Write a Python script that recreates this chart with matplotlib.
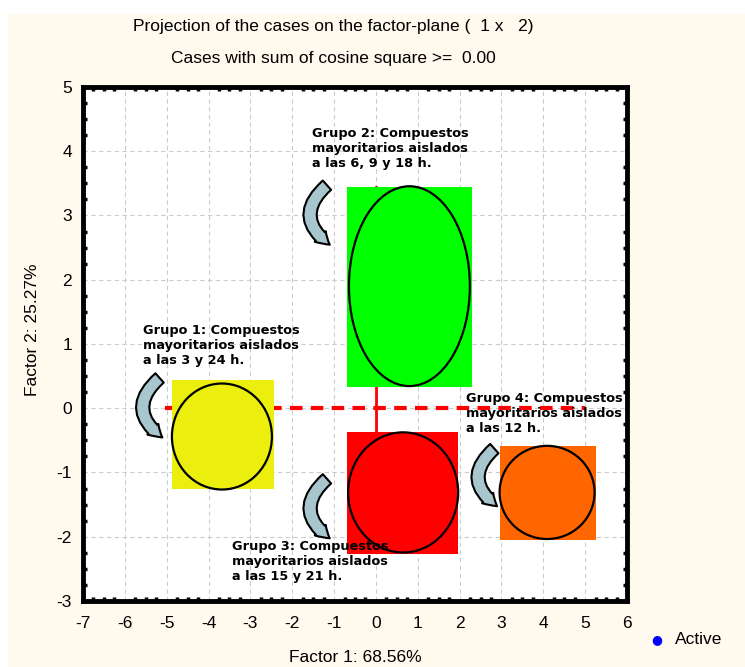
import matplotlib
matplotlib.use('Agg')
from matplotlib import pyplot as plt
from matplotlib.patches import Rectangle, Ellipse, FancyArrowPatch
from matplotlib.ticker import MultipleLocator

plt.rcParams['axes.unicode_minus'] = False

# datos de los grupos (centro, ancho y alto de cada elipse)
grupos = ['Grupo 1: Compuestos\nmayoritarios aislados\na las 3 y 24 h.',
          'Grupo 2: Compuestos\nmayoritarios aislados\na las 6, 9 y 18 h.',
          'Grupo 3: Compuestos\nmayoritarios aislados\na las 15 y 21 h.',
          'Grupo 4: Compuestos\nmayoritarios aislados\na las 12 h.']
cx = [-3.68, 0.80, 0.65, 4.09]
cy = [-0.44, 1.90, -1.31, -1.31]
ancho = [2.39, 2.89, 2.63, 2.27]
alto = [1.65, 3.11, 1.87, 1.45]
# rectangulos de fondo (x0, x1, y0, y1)
rx0 = [-4.87, -0.69, -0.69, 2.96]
rx1 = [-2.44, 2.30, 1.96, 5.26]
ry0 = [-1.25, 0.33, -2.27, -2.05]
ry1 = [0.44, 3.45, -0.37, -0.59]
colores = ['#ECEF0E', '#00FF00', '#FF0000', '#FF6600']
# posicion de las etiquetas
tx = [-5.57, -1.53, -3.44, 2.15]
ty = [1.31, 4.38, -2.05, 0.25]
# flechas curvas (inicio, fin)
fx0 = [-5.12, -1.12, -1.12, 2.88]
fy0 = [0.50, 3.50, -1.07, -0.60]
fx1 = [-5.05, -1.05, -1.05, 2.95]
fy1 = [-0.48, 2.52, -2.05, -1.55]

xticks = list(range(-7, 7))
yticks = list(range(-3, 6))

fuente = ['Liberation Sans', 'DejaVu Sans']

fig = plt.figure(figsize=(7.45, 6.67), dpi=100)
fig.patch.set_facecolor('white')
fig.patches.append(Rectangle((8/745, 0), 1, (667-14)/667, transform=fig.transFigure,
                             facecolor='#FFF9EE', edgecolor='none', zorder=-10))
ax = fig.add_axes([83/745, 66/667, 544/745, 514/667])
ax.set_facecolor('white')
ax.set_xlim(-7, 6)
ax.set_ylim(-3, 5)
ax.set_xticks(xticks)
ax.set_yticks(yticks)
ax.xaxis.set_minor_locator(MultipleLocator(0.25))
ax.yaxis.set_minor_locator(MultipleLocator(0.25))
ax.tick_params(which='both', direction='in', length=3, width=2.5, top=True, right=True,
               labelsize=12.5)
ax.tick_params(which='major', length=0)
ax.tick_params(axis='x', pad=11)
ax.tick_params(axis='y', pad=8)
for lab in ax.get_xticklabels() + ax.get_yticklabels():
    lab.set_family(fuente)
ax.grid(True, linestyle=(0, (4, 3)), color='#CCCCCC', linewidth=0.8)
ax.set_axisbelow(True)
for s in ax.spines.values():
    s.set_linewidth(3.5)

# lineas rojas
ax.plot([-5.05, 5.0], [0, 0], color='red', linewidth=3, linestyle=(0, (3, 2)), zorder=2)
ax.plot([0, 0], [-0.37, 3.45], color='red', linewidth=2, zorder=2)

for i in range(4):
    ax.add_patch(Rectangle((rx0[i], ry0[i]), rx1[i]-rx0[i], ry1[i]-ry0[i],
                           facecolor=colores[i], edgecolor='none', zorder=3))
    ax.add_patch(Ellipse((cx[i], cy[i]), ancho[i], alto[i], facecolor='none',
                         edgecolor='black', linewidth=1.6, zorder=4))
    ax.text(tx[i], ty[i], grupos[i], fontsize=9.3, fontweight='bold', va='top', ha='left',
            linespacing=1.2, family='DejaVu Sans', zorder=5)
    flecha = FancyArrowPatch((fx0[i], fy0[i]), (fx1[i], fy1[i]),
                             connectionstyle='arc3,rad=0.65',
                             arrowstyle='simple,head_width=11,head_length=9,tail_width=9',
                             facecolor='#A8C6CD', edgecolor='black', linewidth=1.5, zorder=5)
    ax.add_patch(flecha)

fig.text(333/745, 1-27/667, 'Projection of the cases on the factor-plane (  1 x   2)',
         ha='center', va='center', fontsize=12.5, family=fuente)
fig.text(333/745, 1-58/667, 'Cases with sum of cosine square >=  0.00',
         ha='center', va='center', fontsize=12.5, family=fuente)
fig.text(355/745, 1-657/667, 'Factor 1: 68.56%', ha='center', va='center', fontsize=12.5,
         family=fuente)
fig.text(33/745, 1-330/667, 'Factor 2: 25.27%', ha='center', va='center', fontsize=12.5,
         rotation=90, family=fuente)
fig.text(657/745, 1-640/667, '\u25cf', color='blue', ha='center', va='center', fontsize=9)
fig.text(675/745, 1-640/667, 'Active', ha='left', va='center', fontsize=12.5, family=fuente)

plt.savefig('out.png', dpi=100)
